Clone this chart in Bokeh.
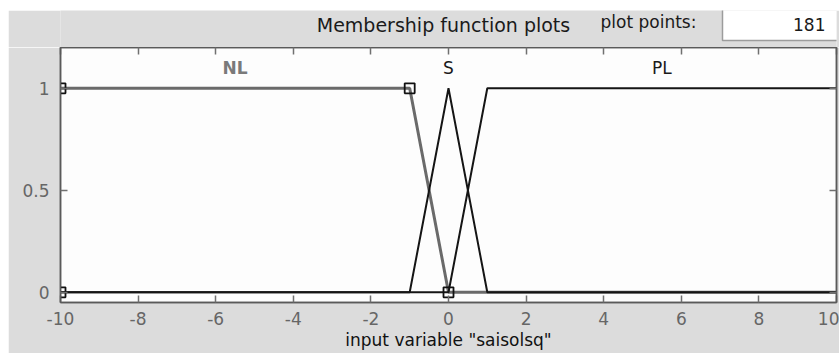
from bokeh.plotting import figure
from bokeh.models import Range1d, LinearAxis, FixedTicker, ColumnDataSource, Spacer
from bokeh.layouts import row, column
from bokeh.embed import file_html
from bokeh.resources import INLINE
from bokeh.core.properties import value

# ---- data ----
mf_names = ["NL", "S", "PL"]
nl_x = [-10, -1, 0, 10]
nl_y = [1, 1, 0, 0]
s_x = [-10, -1, 0, 1, 10]
s_y = [0, 0, 1, 0, 0]
pl_x = [-10, 0, 1, 10]
pl_y = [0, 0, 1, 1]
handle_x = [-10, -10, -1, 0]
handle_y = [0, 1, 1, 0]
mf_label_x = [-5.5, 0, 5.5]
mf_label_y = [1.1, 1.1, 1.1]
x_ticks = [-10, -8, -6, -4, -2, 0, 2, 4, 6, 8, 10]
x_tick_labels = ["-10", "-8", "-6", "-4", "-2", "0", "2", "4", "6", "8", "10"]
y_ticks = [0, 0.5, 1]
y_tick_labels = ["0", "0.5", "1"]
plot_points = "181"
var_name = "saisolsq"
title_text = "Membership function plots"
points_text = "plot points:"

FONT = "DejaVu Sans"
GRAY_BG = "#dcdcdc"
BORDER_L, BORDER_R = 52, 3

# ---------------- header strip (x in page pixels of the plot frame) ----------------
h = figure(width=831, height=37, output_backend="svg", toolbar_location=None,
           x_range=Range1d(60, 836), y_range=Range1d(47, 10),
           x_axis_location=None, y_axis_location=None,
           min_border_left=BORDER_L, min_border_right=BORDER_R,
           min_border_top=0, min_border_bottom=0)
h.background_fill_color = GRAY_BG
h.border_fill_color = GRAY_BG
h.outline_line_color = None
h.xgrid.visible = False
h.ygrid.visible = False
# white "plot points" edit box
h.quad(left=[722], right=[840], top=[9], bottom=[40], fill_color="white", line_color=None)
h.line([722, 722, 840], [9, 40, 40], line_color="#9c9c9c", line_width=1.5)
h.text(x=[443], y=[24], text=[title_text], text_font=value(FONT), text_font_size="19px",
       text_color="#1a1a1a", text_align="center", text_baseline="middle")
h.text(x=[600], y=[21], text=[points_text], text_font=value(FONT), text_font_size="17px",
       text_color="#1a1a1a", text_align="left", text_baseline="middle")
h.text(x=[825], y=[24], text=[plot_points], text_font=value(FONT), text_font_size="17px",
       text_color="#1a1a1a", text_align="right", text_baseline="middle")

# ---------------- main plot ----------------
p = figure(width=831, height=306, output_backend="svg", toolbar_location=None,
           x_range=Range1d(-10, 10), y_range=Range1d(-0.05, 1.2),
           x_axis_location=None, y_axis_location=None,
           min_border_left=BORDER_L, min_border_right=BORDER_R,
           min_border_top=0, min_border_bottom=51)
p.background_fill_color = "#fdfdfd"
p.border_fill_color = GRAY_BG
p.outline_line_color = "#5a5a5a"
p.outline_line_width = 1.5
p.xgrid.visible = False
p.ygrid.visible = False

def style_axis(ax, ticks, labels):
    ax.ticker = FixedTicker(ticks=ticks)
    ax.minor_tick_line_color = None
    ax.major_tick_in = 7
    ax.major_tick_out = 0
    ax.major_tick_line_color = "#707070"
    ax.major_tick_line_width = 1.5
    ax.axis_line_color = "#5a5a5a"
    ax.axis_line_width = 1.5
    ax.major_label_text_font = FONT
    if labels is not None:
        ax.major_label_overrides = {t: l for t, l in zip(ticks, labels)}
        ax.major_label_text_font_size = "17px"
        ax.major_label_text_color = "#666666"
    else:
        ax.major_label_overrides = {t: "" for t in ticks}
        ax.major_label_text_font_size = "1px"
        ax.major_label_standoff = 0

xb = LinearAxis()
style_axis(xb, x_ticks, x_tick_labels)
xb.major_label_standoff = 9
xb.axis_label = 'input variable "%s"' % var_name
xb.axis_label_text_font = FONT
xb.axis_label_text_font_size = "17px"
xb.axis_label_text_font_style = "normal"
xb.axis_label_text_color = "#111111"
xb.axis_label_standoff = 2
p.add_layout(xb, "below")

xt = LinearAxis()
style_axis(xt, x_ticks, None)
p.add_layout(xt, "above")

yl = LinearAxis()
style_axis(yl, y_ticks, y_tick_labels)
yl.major_label_standoff = 11
p.add_layout(yl, "left")

yr = LinearAxis()
style_axis(yr, y_ticks, None)
p.add_layout(yr, "right")

# membership functions (selected NL in gray, others black on top)
p.line(nl_x, nl_y, line_color="#6a6a6a", line_width=3)
p.line(s_x, s_y, line_color="#151515", line_width=2)
p.line(pl_x, pl_y, line_color="#151515", line_width=2)
p.scatter(handle_x, handle_y, marker="square", size=10, fill_color=None,
          line_color="#111111", line_width=1.8)

src = ColumnDataSource(dict(x=mf_label_x, y=mf_label_y, t=mf_names,
                            c=["#7a7a7a", "#1a1a1a", "#1a1a1a"],
                            s=["bold", "normal", "normal"]))
p.text(x="x", y="y", text="t", source=src, text_color="c", text_font_style="s",
       text_font=value(FONT), text_font_size="17px", text_align="center",
       text_baseline="middle")

layout = row(Spacer(width=8, height=353),
             column(Spacer(width=831, height=10), h, p, spacing=0), spacing=0)

open("out.html", "w").write(file_html(layout, INLINE))
